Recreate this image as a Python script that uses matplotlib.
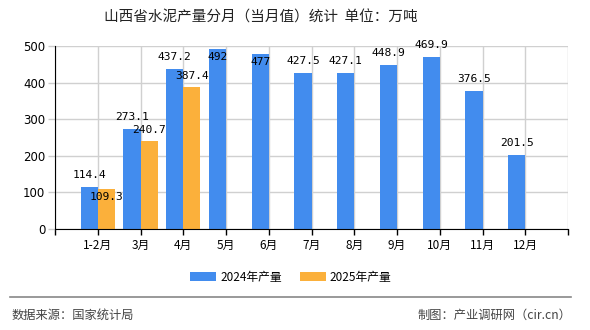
import matplotlib
matplotlib.use("Agg")
import matplotlib.pyplot as plt
from matplotlib.patches import Patch
from matplotlib.lines import Line2D
import numpy as np

plt.rcParams['font.family'] = ['Noto Sans CJK SC', 'DejaVu Sans']

title = "山西省水泥产量分月（当月值）统计  单位：万吨"
categories = ["1-2月", "3月", "4月", "5月", "6月", "7月", "8月", "9月", "10月", "11月", "12月"]
values_2024 = [114.4, 273.1, 437.2, 492, 477, 427.5, 427.1, 448.9, 469.9, 376.5, 201.5]
values_2025 = [109.3, 240.7, 387.4]
labels_2024 = ["114.4", "273.1", "437.2", "492", "477", "427.5", "427.1", "448.9", "469.9", "376.5", "201.5"]
labels_2025 = ["109.3", "240.7", "387.4"]
series_names = ["2024年产量", "2025年产量"]
y_ticks = [0, 100, 200, 300, 400, 500]
source_text = "数据来源：国家统计局"
credit_text = "制图：产业调研网（cir.cn）"

c24 = "#428CEE"
c25 = "#FBB03B"

W, H = 590, 330
fig = plt.figure(figsize=(W / 100, H / 100), dpi=100)
ax = fig.add_axes([55 / W, 1 - 229 / H, (568 - 55) / W, (229 - 46) / H])

x24 = np.arange(len(values_2024))
x25 = np.arange(len(values_2025))
bw = 0.4
ax.bar(x24 - bw / 2, values_2024, width=bw, color=c24, zorder=3)
ax.bar(x25 + bw / 2, values_2025, width=bw, color=c25, zorder=3)

ax.set_xlim(-1, len(categories))
ax.set_ylim(0, 500)
ax.set_yticks(y_ticks)
ax.set_xticks(range(-1, len(categories) + 1))
ax.set_xticklabels([""] + categories + [""])
ax.tick_params(axis='x', length=4, width=1, color='black', labelsize=8.5, pad=3)
ax.tick_params(axis='y', length=5, width=1, color='#cccccc', labelsize=8.5, pad=2)
for lab in ax.get_yticklabels():
    lab.set_family(['DejaVu Sans'])
ax.grid(True, color='#d0d0d0', linewidth=1, zorder=0)
ax.set_axisbelow(True)
for s in ['top', 'right']:
    ax.spines[s].set_visible(False)
ax.spines['left'].set_color('black')
ax.spines['bottom'].set_color('black')
ax.spines['bottom'].set_zorder(4)

# data labels (inside-top when they would overflow or overlap)
inside_24 = {3, 4}
inside_25 = {0}
for i, (v, t) in enumerate(zip(values_2024, labels_2024)):
    off = -8 if i in inside_24 else 12
    ax.annotate(t, (i - bw / 2, v), xytext=(0, off * 0.72), textcoords='offset points',
                ha='center', va='center', fontsize=8.1, family=['DejaVu Sans Mono'],
                color='black', zorder=5)
for i, (v, t) in enumerate(zip(values_2025, labels_2025)):
    off = -8 if i in inside_25 else 11
    ax.annotate(t, (i + bw / 2, v), xytext=(0, off * 0.72), textcoords='offset points',
                ha='center', va='center', fontsize=8.1, family=['DejaVu Sans Mono'],
                color='black', zorder=5)

fig.text(261 / W, 1 - 18 / H, title, ha='center', va='center', fontsize=10.5, color='#222222')

handles = [Patch(facecolor=c24, edgecolor='none'), Patch(facecolor=c25, edgecolor='none')]
fig.legend(handles, series_names, loc='center', bbox_to_anchor=(291 / W, 1 - 277 / H),
           ncol=2, frameon=False, fontsize=8.5, handlelength=2.2, handleheight=0.7,
           handletextpad=0.35, columnspacing=1.5)

fig.add_artist(Line2D([10 / W, 571 / W], [1 - 297 / H, 1 - 297 / H], color='#888888',
                      linewidth=1.2, transform=fig.transFigure))
fig.text(12 / W, 1 - 315 / H, source_text, ha='left', va='center', fontsize=8.8, color='#444444')
fig.text(571 / W, 1 - 315 / H, credit_text, ha='right', va='center', fontsize=8.8, color='#444444')

fig.savefig("out.png", dpi=100)
